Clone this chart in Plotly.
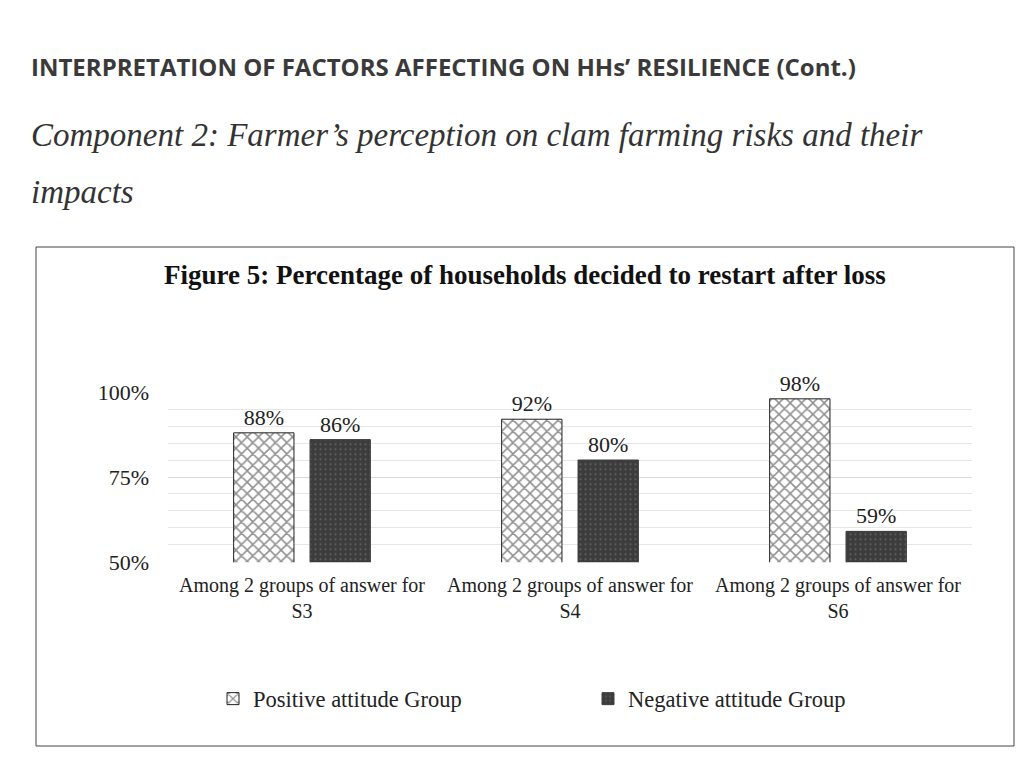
import plotly.graph_objects as go

categories = ["Among 2 groups of answer for<br>S3",
              "Among 2 groups of answer for<br>S4",
              "Among 2 groups of answer for<br>S6"]
positive = [88, 92, 98]
negative = [86, 80, 59]
series_names = ["Positive attitude Group", "Negative attitude Group"]
tick_vals = [50, 75, 100]
tick_text = ["50%", "75%", "100%"]

# page has an 8px body margin, so the figure is 16px smaller than the window
W, H = 1008, 752
OFF = 8
def px(x): return (x - OFF) / W
def py(y): return 1 - (y - OFF) / H

serif = "Liberation Serif, Times New Roman, serif"

fig = go.Figure()
fig.add_trace(go.Bar(
    x=categories, y=positive, name=series_names[0],
    text=[f"{v}%" for v in positive], textposition="outside",
    textfont=dict(family=serif, size=22, color="#222"),
    constraintext="none", cliponaxis=False,
    marker=dict(color="white", line=dict(color="#222", width=1),
                pattern=dict(shape="x", fgcolor="#222", bgcolor="white", size=8, solidity=0.35)),
))
fig.add_trace(go.Bar(
    x=categories, y=negative, name=series_names[1],
    text=[f"{v}%" for v in negative], textposition="outside",
    textfont=dict(family=serif, size=22, color="#222"),
    constraintext="none", cliponaxis=False,
    marker=dict(color="#3c3c3c", line=dict(color="#3c3c3c", width=1),
                pattern=dict(shape=".", fgcolor="#8a8a8a", bgcolor="#3c3c3c", size=5, solidity=0.15)),
))

fig.update_layout(
    width=W, height=H,
    margin=dict(l=0, r=0, t=0, b=0, pad=0, autoexpand=False),
    paper_bgcolor="white", plot_bgcolor="white",
    barmode="group", bargap=0.43, bargroupgap=0.21,
    font=dict(family=serif, color="#222"),
    showlegend=True,
    legend=dict(orientation="h", x=px(213), y=py(699), xanchor="left", yanchor="middle",
                font=dict(family=serif, size=22.5, color="#222"),
                entrywidth=330, itemwidth=30),
    xaxis=dict(domain=[px(168), px(972)], showline=False, ticks="", automargin=False,
               ticklabelstandoff=9,
               tickfont=dict(family=serif, size=20, color="#222")),
    yaxis=dict(domain=[py(562.3), py(391.7)], range=[49.9, 100.1], automargin=False,
               tickvals=tick_vals, ticktext=tick_text,
               tickfont=dict(family=serif, size=22, color="#222"),
               ticklabelstandoff=18,
               showgrid=True, gridcolor="#d9d9d9", gridwidth=1,
               zeroline=False, ticklen=0, ticks="",
               minor=dict(dtick=5, showgrid=True, gridcolor="#e6e6e6", gridwidth=1)),
    shapes=[
        dict(type="rect", xref="paper", yref="paper",
             x0=px(36), x1=px(1014), y0=py(746), y1=py(247),
             line=dict(color="#444", width=1), fillcolor="rgba(0,0,0,0)", layer="below"),
    ],
    annotations=[
        dict(text="<b>INTERPRETATION OF FACTORS AFFECTING ON HHs\u2019 RESILIENCE (Cont.)</b>",
             xref="paper", yref="paper", x=px(29), y=py(66), xanchor="left", yanchor="middle",
             showarrow=False,
             font=dict(family="Open Sans, sans-serif", size=24, color="#3a3a3a")),
        dict(text="<i>Component 2: Farmer\u2019s perception on clam farming risks and their</i>",
             xref="paper", yref="paper", x=px(29), y=py(135), xanchor="left", yanchor="middle",
             showarrow=False, font=dict(family=serif, size=33, color="#333")),
        dict(text="<i>impacts</i>",
             xref="paper", yref="paper", x=px(29), y=py(192), xanchor="left", yanchor="middle",
             showarrow=False, font=dict(family=serif, size=33, color="#333")),
        dict(text="<b>Figure 5: Percentage of households decided to restart after loss</b>",
             xref="paper", yref="paper", x=px(525), y=py(275), xanchor="center", yanchor="middle",
             showarrow=False, font=dict(family=serif, size=27, color="#111")),
    ],
)

fig.write_html("out.html")
